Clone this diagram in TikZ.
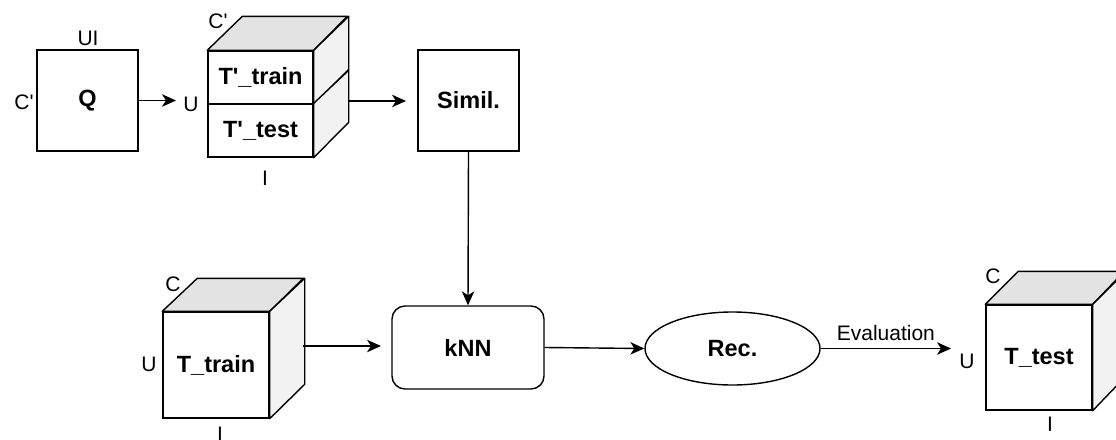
\documentclass[tikz,border=0pt]{standalone}
\usepackage{fontspec}
\setmainfont{Liberation Sans}
\usetikzlibrary{arrows.meta,shapes.geometric}
\definecolor{topface}{HTML}{E3E3E3}
\definecolor{sideface}{HTML}{F2F2F2}
\newcommand{\tq}{\textquotesingle}
\tikzset{
  base/.style={draw=black, line width=1.4pt, fill=white, inner sep=0pt, font=\fontsize{23.5}{25}\selectfont\bfseries},
  square/.style={base, rectangle, minimum width=101pt, minimum height=101pt},
  face/.style={base, rectangle},
  topf/.style={draw=black, line width=1.4pt, fill=topface, line join=round},
  sidef/.style={draw=black, line width=1.4pt, fill=sideface, line join=round},
  lbl/.style={inner sep=0pt, font=\fontsize{21}{23}\selectfont},
  arr/.style={draw=black, line width=1.4pt, -{Stealth[length=14pt,width=12.5pt,inset=4pt]}},
}
\begin{document}
\begin{tikzpicture}[x=1pt, y=-1pt]
\useasboundingbox (0,0) rectangle (1116,439);

% ---- Q matrix ----
\node[square] (Q) at (87.5,100.5) {Q};
\node[lbl] (qtop) at (88,38) {UI};
\node[lbl] (qleft) at (24,102) {C\tq};

% ---- split cube T'_train / T'_test ----
\node[face, minimum width=105pt, minimum height=53pt] (ttr) at (260.5,77.5) {T\tq\_train};
\node[face, minimum width=105pt, minimum height=53pt] (tte) at (260.5,130.5) {T\tq\_test};
\path[topf] (ttr.north west) -- ++(35,-34) -- ++(105,0) -- (ttr.north east) -- cycle;
\path[sidef] (ttr.north east) -- ++(35,-34) -- ++(0,53) -- (ttr.south east) -- cycle;
\path[sidef] (tte.north east) -- ++(35,-33) -- ++(0,52) -- (tte.south east) -- cycle;
\node[lbl] (c1c) at (218,21) {C\tq};
\node[lbl] (c1u) at (191,104) {U};
\node[lbl] (c1i) at (265,178) {I};
\coordinate (c1out) at (348,101);

% ---- similarity ----
\node[square] (sim) at (468.5,100.5) {Simil.};

% ---- training cube ----
\node[face, minimum width=106pt, minimum height=106pt] (ttrain) at (216,365) {T\_train};
\path[topf] (ttrain.north west) -- ++(35,-33) -- ++(106,0) -- (ttrain.north east) -- cycle;
\path[sidef] (ttrain.north east) -- ++(35,-33) -- ++(0,106) -- (ttrain.south east) -- cycle;
\node[lbl] (c2c) at (173,284) {C};
\node[lbl] (c2u) at (149,364) {U};
\node[lbl] (c2i) at (220,434) {I};
\coordinate (c2out) at (303,346);

% ---- kNN ----
\node[base, rectangle, rounded corners=13pt, minimum width=152pt, minimum height=83pt] (knn) at (468,347.5) {kNN};

% ---- recommendation ----
\node[base, ellipse, minimum width=175pt, minimum height=73pt] (rec) at (732.5,348.5) {Rec.};

% ---- test cube ----
\node[face, minimum width=106pt, minimum height=105pt] (ttest) at (1039,357.5) {T\_test};
\path[topf] (ttest.north west) -- ++(33,-33) -- ++(106,0) -- (ttest.north east) -- cycle;
\path[sidef] (ttest.north east) -- ++(33,-33) -- ++(0,105) -- (ttest.south east) -- cycle;
\node[lbl] (c3c) at (993,276) {C};
\node[lbl] (c3u) at (967,361) {U};
\node[lbl] (c3i) at (1050,424) {I};

% ---- connectors ----
\coordinate (qend) at (176,100.5);
\draw[arr] (Q.east) -- (qend);
\coordinate (simin) at (406,101);
\draw[arr] (c1out) -- (simin);
\draw[arr] (sim.south) -- (knn.north);
\coordinate (knnin) at (381,346);
\draw[arr] (c2out) -- (knnin);
\draw[arr] (knn.east) -- (rec.west);
\coordinate (testin) at (951,348.5);
\draw[arr] (rec.east) -- node[lbl, above=7pt] (evl) {Evaluation} (testin);
\end{tikzpicture}
\end{document}
